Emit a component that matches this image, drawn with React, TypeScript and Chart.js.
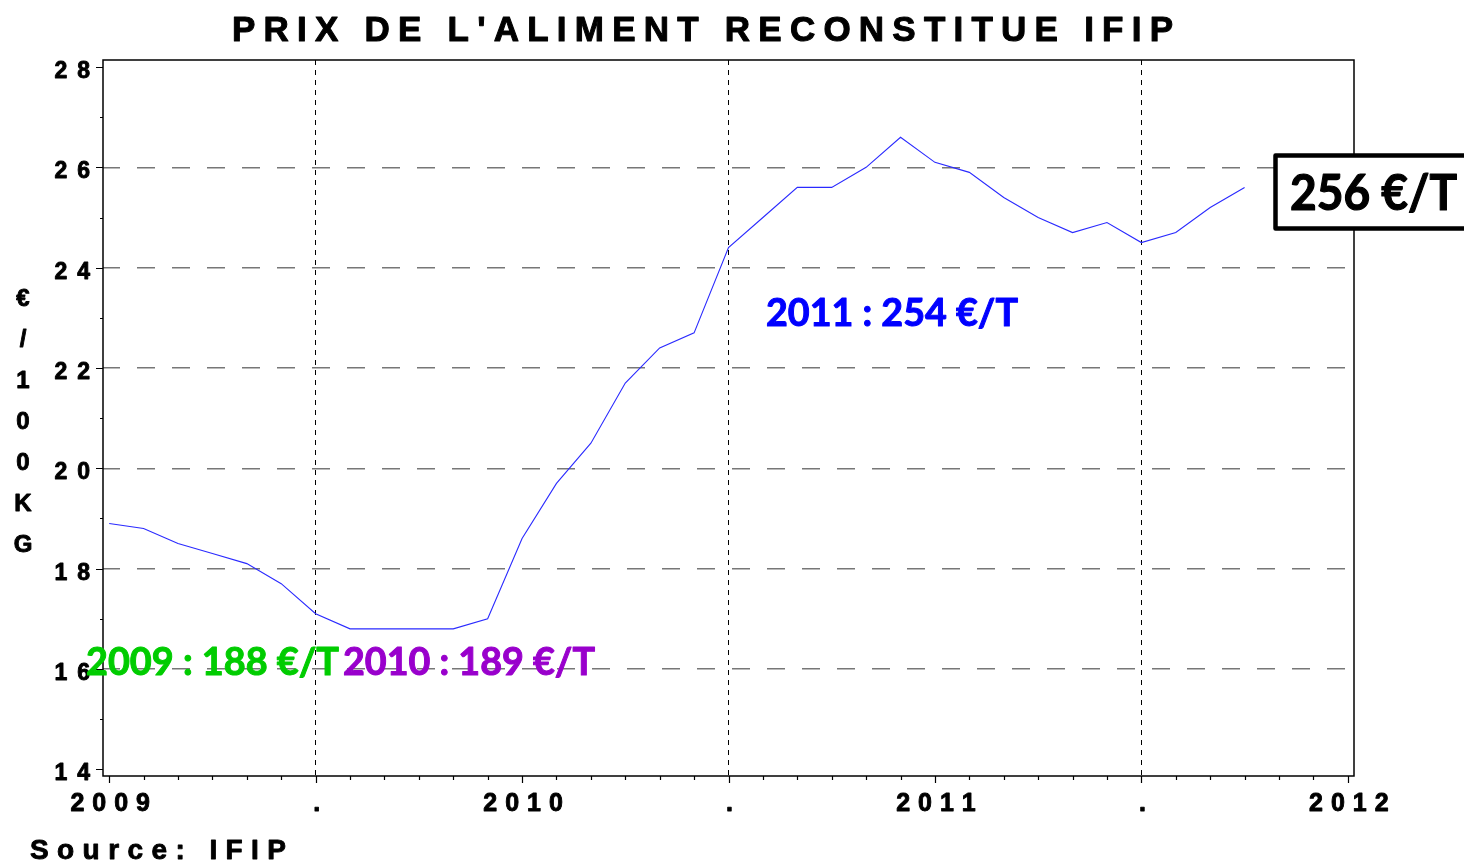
import { useEffect, useRef } from 'react';
import { Chart, registerables } from 'chart.js';

Chart.register(...registerables);

// Monthly IFIP reconstituted feed price, €/100 kg, Jan 2009 .. Oct 2011
const monthIndex = [0, 1, 2, 3, 4, 5, 6, 7, 8, 9, 10, 11, 12, 13, 14, 15, 16, 17, 18, 19, 20, 21, 22, 23, 24, 25, 26, 27, 28, 29, 30, 31, 32, 33];
const prices = [18.9, 18.8, 18.5, 18.3, 18.1, 17.7, 17.1, 16.8, 16.8, 16.8, 16.8, 17.0, 18.6, 19.7, 20.5, 21.7, 22.4, 22.7, 24.4, 25.0, 25.6, 25.6, 26.0, 26.6, 26.1, 25.9, 25.4, 25.0, 24.7, 24.9, 24.5, 24.7, 25.2, 25.6];

const xTickMonths = [0, 6, 12, 18, 24, 30, 36];
const xTickLabels = ['2009', '.', '2010', '.', '2011', '.', '2012'];
const midYearMonths = [6, 18, 30];

const yTickValues = [14, 16, 18, 20, 22, 24, 26, 28];
const yGridValues = [16, 18, 20, 22, 24, 26];

const titleText = "PRIX DE L'ALIMENT RECONSTITUE IFIP";
const yAxisTitle = ['€', '/', '1', '0', '0', 'K', 'G'];
const sourceText = 'Source: IFIP';

const noteTexts = ['2011 : 254 €/T', '2009 : 188 €/T', '2010 : 189 €/T'];
const noteColors = ['#0000ff', '#00cc00', '#9900cc'];
const lastPriceText = '256 €/T';

function drawSpaced(ctx: CanvasRenderingContext2D, text: string, x: number, y: number, spacing: number, align: 'left' | 'center' | 'right', stroke = 0) {
  const chars = [...text];
  const widths = chars.map((c) => ctx.measureText(c).width);
  const total = widths.reduce((a, b) => a + b, 0) + spacing * (chars.length - 1);
  let cx = align === 'left' ? x : align === 'center' ? x - total / 2 : x - total;
  ctx.textAlign = 'left';
  ctx.strokeStyle = ctx.fillStyle as string;
  ctx.lineWidth = stroke;
  ctx.lineJoin = 'round';
  chars.forEach((c, i) => {
    ctx.fillText(c, cx, y);
    if (stroke > 0) ctx.strokeText(c, cx, y);
    cx += widths[i] + spacing;
  });
}

function drawFitSpaced(ctx: CanvasRenderingContext2D, text: string, left: number, right: number, y: number, stroke = 0) {
  const chars = [...text];
  const sum = chars.map((c) => ctx.measureText(c).width).reduce((a, b) => a + b, 0);
  const spacing = (right - left - sum) / (chars.length - 1);
  drawSpaced(ctx, text, left, y, spacing, 'left', stroke);
}

function drawScaled(ctx: CanvasRenderingContext2D, text: string, left: number, right: number, y: number, stroke = 0) {
  const w = ctx.measureText(text).width;
  ctx.save();
  ctx.translate(left, y);
  ctx.scale((right - left) / w, 1);
  ctx.textAlign = 'left';
  ctx.fillText(text, 0, 0);
  if (stroke > 0) {
    ctx.strokeStyle = ctx.fillStyle as string;
    ctx.lineWidth = stroke;
    ctx.lineJoin = 'round';
    ctx.strokeText(text, 0, 0);
  }
  ctx.restore();
}

const decorPlugin = {
  id: 'decor',
  afterDraw(chart: any) {
    const { ctx, chartArea: a } = chart;
    const x = chart.scales.x;
    const y = chart.scales.y;
    ctx.save();
    ctx.textBaseline = 'alphabetic';

    // frame
    ctx.strokeStyle = '#000';
    ctx.lineWidth = 1.5;
    ctx.strokeRect(a.left, a.top, a.right - a.left, a.bottom - a.top);

    // y tick marks
    ctx.lineWidth = 1.2;
    ctx.beginPath();
    y.ticks.forEach((t: any) => {
      if (!Number.isInteger(t.value)) return;
      const py = Math.round(y.getPixelForValue(t.value)) + 0.5;
      const len = t.value % 2 === 0 ? 7 : 3;
      ctx.moveTo(a.left - len, py);
      ctx.lineTo(a.left, py);
    });
    ctx.stroke();

    // x tick marks
    ctx.beginPath();
    x.ticks.forEach((t: any) => {
      if (!Number.isInteger(t.value)) return;
      const px = Math.round(x.getPixelForValue(t.value)) + 0.5;
      const len = xTickMonths.includes(t.value) ? 7 : 4;
      ctx.moveTo(px, a.bottom);
      ctx.lineTo(px, a.bottom + len);
    });
    ctx.stroke();

    ctx.fillStyle = '#000';
    // y tick labels
    ctx.font = 'bold 23px "Liberation Sans"';
    yTickValues.forEach((v) => {
      const py = y.getPixelForValue(v);
      drawSpaced(ctx, String(v), 90, py + 11, 10, 'right', 0.9);
    });

    // x tick labels
    ctx.font = 'bold 25px "Liberation Sans"';
    xTickMonths.forEach((m, i) => {
      const px = x.getPixelForValue(m);
      drawSpaced(ctx, xTickLabels[i], px + 1, 811, 8, 'center', 0.9);
    });

    // title
    ctx.font = 'bold 35px "Liberation Sans"';
    drawFitSpaced(ctx, titleText, 232, 1173, 41, 1);

    // y axis title (stacked letters)
    ctx.font = 'bold 24px "Liberation Sans"';
    yAxisTitle.forEach((c, i) => {
      drawSpaced(ctx, c, 23, 306 + 41 * i, 0, 'center', 0.9);
    });

    // source
    ctx.font = 'bold 28px "Liberation Sans"';
    drawFitSpaced(ctx, sourceText, 30, 286, 859, 0.9);

    // annotations
    ctx.font = '700 38px "Lato", "Open Sans", sans-serif';
    ctx.fillStyle = noteColors[0];
    drawScaled(ctx, noteTexts[0], 766, 1018, 326, 1);
    ctx.fillStyle = noteColors[1];
    drawScaled(ctx, noteTexts[1], 86, 339, 675, 1);
    ctx.fillStyle = noteColors[2];
    drawScaled(ctx, noteTexts[2], 343, 595, 675, 1);

    // boxed last value
    ctx.fillStyle = '#fff';
    ctx.fillRect(1275, 155, 220, 74);
    ctx.strokeStyle = '#000';
    ctx.lineWidth = 4.5;
    ctx.strokeRect(1275.5, 155.5, 220, 73);
    ctx.fillStyle = '#000';
    ctx.font = '700 49px "Lato", "Open Sans", sans-serif';
    drawScaled(ctx, lastPriceText, 1290, 1457, 210, 1.2);

    ctx.restore();
  },
};

export default function App() {
  const ref = useRef<HTMLCanvasElement>(null);

  useEffect(() => {
    const canvas = ref.current;
    if (!canvas) return;
    const chart = new Chart(canvas, {
      type: 'line',
      data: {
        datasets: [
          {
            data: prices.map((v, i) => ({ x: monthIndex[i], y: v })),
            borderColor: '#2a2aff',
            borderWidth: 1.1,
            pointRadius: 0,
            tension: 0,
            fill: false,
          },
        ],
      },
      options: {
        responsive: false,
        animation: false,
        devicePixelRatio: 1,
        layout: { padding: { left: 0, top: 60, right: 110, bottom: 0 } },
        plugins: {
          legend: { display: false },
          title: { display: false },
          tooltip: { enabled: false },
        },
        scales: {
          x: {
            type: 'linear',
            min: -0.18,
            max: 36.18,
            afterFit: (s: any) => {
              s.height = 88;
            },
            border: { display: false, dash: [5, 5] },
            ticks: { display: false, stepSize: 1, includeBounds: false },
            grid: {
              drawTicks: false,
              lineWidth: 1,
              color: (c: any) => (c.tick && midYearMonths.includes(c.tick.value) ? '#000' : 'rgba(0,0,0,0)'),
            },
          },
          y: {
            type: 'linear',
            min: 13.866,
            max: 28.14,
            afterFit: (s: any) => {
              s.width = 103;
            },
            border: { display: false, dash: [18, 17], dashOffset: 1 },
            ticks: { display: false, stepSize: 1, includeBounds: false },
            grid: {
              drawTicks: false,
              lineWidth: 1.5,
              color: (c: any) => (c.tick && yGridValues.includes(c.tick.value) ? '#777' : 'rgba(0,0,0,0)'),
            },
          },
        },
      } as any,
      plugins: [decorPlugin],
    });
    return () => chart.destroy();
  }, []);

  return (
    <div style={{ position: 'absolute', left: 0, top: 0, width: 1464, height: 864, background: '#fff' }}>
      <canvas ref={ref} width={1464} height={864} style={{ display: 'block', width: 1464, height: 864 }} />
    </div>
  );
}
